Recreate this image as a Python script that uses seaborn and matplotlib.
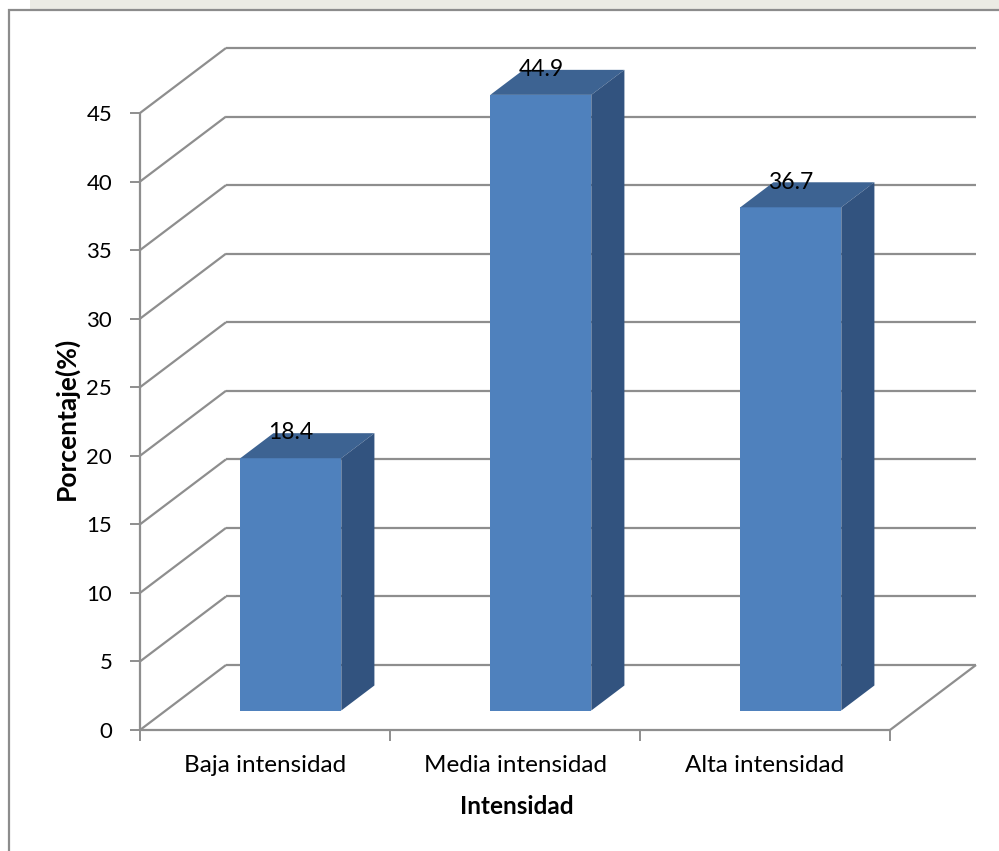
import matplotlib
matplotlib.use("Agg")
import matplotlib.pyplot as plt
from matplotlib.patches import Polygon, Rectangle
import pandas as pd
import seaborn as sns

# ---- data ----
categorias = ["Baja intensidad", "Media intensidad", "Alta intensidad"]
porcentajes = [18.4, 44.9, 36.7]
marcas_y = [0, 5, 10, 15, 20, 25, 30, 35, 40, 45]

df = pd.DataFrame({"Intensidad": categorias, "Porcentaje": porcentajes})

# ---- style ----
sns.set_theme(style="white")
plt.rcParams["font.family"] = ["Lato", "DejaVu Sans"]

C_FRONT = "#4f81bd"
C_TOP = "#3d6392"
C_SIDE = "#32537f"
C_GRID = "#8e8e8e"

W, H, DPI = 999, 851, 100
fig = plt.figure(figsize=(W / DPI, H / DPI), dpi=DPI)
fig.patch.set_facecolor("white")

# light strip above the chart frame
fig.add_artist(Rectangle((30 / W, 1 - 10 / H), 1, 10 / H, transform=fig.transFigure,
                         facecolor="#ebebe4", edgecolor="none", zorder=-3))
# chart frame
fig.add_artist(Rectangle((9 / W, -0.05), 1.2, 1 - 10.5 / H + 0.05,
                         transform=fig.transFigure, facecolor="white",
                         edgecolor="#8c8c8c", linewidth=1.6, zorder=-2))

# axes placed in pixel terms: front plane of the 3-D box
left_px, right_px, base_px, top_px = 140, 990, 730, 30
px_cat = 250.0
px_unit = (730 - 113) / 45.0
ax = fig.add_axes([left_px / W, 1 - base_px / H,
                   (right_px - left_px) / W, (base_px - top_px) / H])
ax.set_facecolor("none")

sns.barplot(data=df, x="Intensidad", y="Porcentaje", order=categorias,
            width=0.404, color=C_FRONT, saturation=1, edgecolor="none",
            ax=ax, zorder=3)

ax.set_xlim(-0.5, -0.5 + (right_px - left_px) / px_cat)
ax.set_ylim(0, (base_px - top_px) / px_unit)

# depth of the box (back wall offset) in data units
DX = 86 / px_cat
DY = 65 / px_unit
d0, d1 = 0.30, 0.685   # depth range occupied by the bars
n = len(categorias)
x_lo, x_hi = -0.5, n - 0.5

line_kw = dict(color=C_GRID, lw=1.6, zorder=1, clip_on=False,
               solid_capstyle="butt")
for v in marcas_y:
    ax.plot([x_lo, x_lo + DX], [v, v + DY], **line_kw)
    ax.plot([x_lo + DX, x_hi + DX], [v + DY, v + DY], **line_kw)
ax.plot([x_lo, x_lo], [0, max(marcas_y)], **line_kw)
ax.plot([x_lo, x_hi], [0, 0], **line_kw)
ax.plot([x_hi, x_hi + DX], [0, DY], **line_kw)

# extrude each bar into a box
dd = d1 - d0
for p, val in zip(ax.patches, porcentajes):
    x0 = p.get_x() + d0 * DX
    y0 = d0 * DY
    w = p.get_width()
    h = p.get_height()
    p.set_x(x0)
    p.set_y(y0)
    top = [(x0, y0 + h), (x0 + w, y0 + h),
           (x0 + w + dd * DX, y0 + h + dd * DY), (x0 + dd * DX, y0 + h + dd * DY)]
    side = [(x0 + w, y0), (x0 + w + dd * DX, y0 + dd * DY),
            (x0 + w + dd * DX, y0 + h + dd * DY), (x0 + w, y0 + h)]
    ax.add_patch(Polygon(top, closed=True, facecolor=C_TOP, edgecolor="none", zorder=3))
    ax.add_patch(Polygon(side, closed=True, facecolor=C_SIDE, edgecolor="none", zorder=3))
    ax.annotate(f"{val:.1f}", xy=(x0 + w / 2, y0 + h), xytext=(0, 13.5),
                textcoords="offset points", ha="center", va="baseline",
                fontsize=16.5, color="black", zorder=5)

# ticks
ax.set_yticks(marcas_y)
ax.set_yticklabels([str(v) for v in marcas_y])
ax.tick_params(axis="y", which="major", left=True, length=7, width=1.4,
               color=C_GRID, labelsize=16, pad=13, labelcolor="black")
ax.set_xticks(range(n))
ax.set_xticklabels(categorias)
ax.set_xticks([i - 0.5 for i in range(n + 1)], minor=True)
ax.tick_params(axis="x", which="major", bottom=True, length=0, labelsize=17.5,
               pad=18, labelcolor="black")
ax.tick_params(axis="x", which="minor", bottom=True, length=8, width=1.4,
               color=C_GRID, direction="out")

for s in ax.spines.values():
    s.set_visible(False)
ax.grid(False)

ax.set_xlabel("Intensidad", fontsize=17.5, fontweight="bold", color="black")
ax.set_ylabel("Porcentaje(%)", fontsize=19, fontweight="bold", color="black")
ax.xaxis.set_label_coords((517 - left_px) / (right_px - left_px),
                          (base_px - 806) / (base_px - top_px))
ax.xaxis.label.set_verticalalignment("center")
ax.yaxis.set_label_coords((66 - left_px) / (right_px - left_px),
                          (base_px - 418) / (base_px - top_px))
ax.yaxis.label.set_verticalalignment("center")

fig.savefig("out.png", dpi=DPI)
